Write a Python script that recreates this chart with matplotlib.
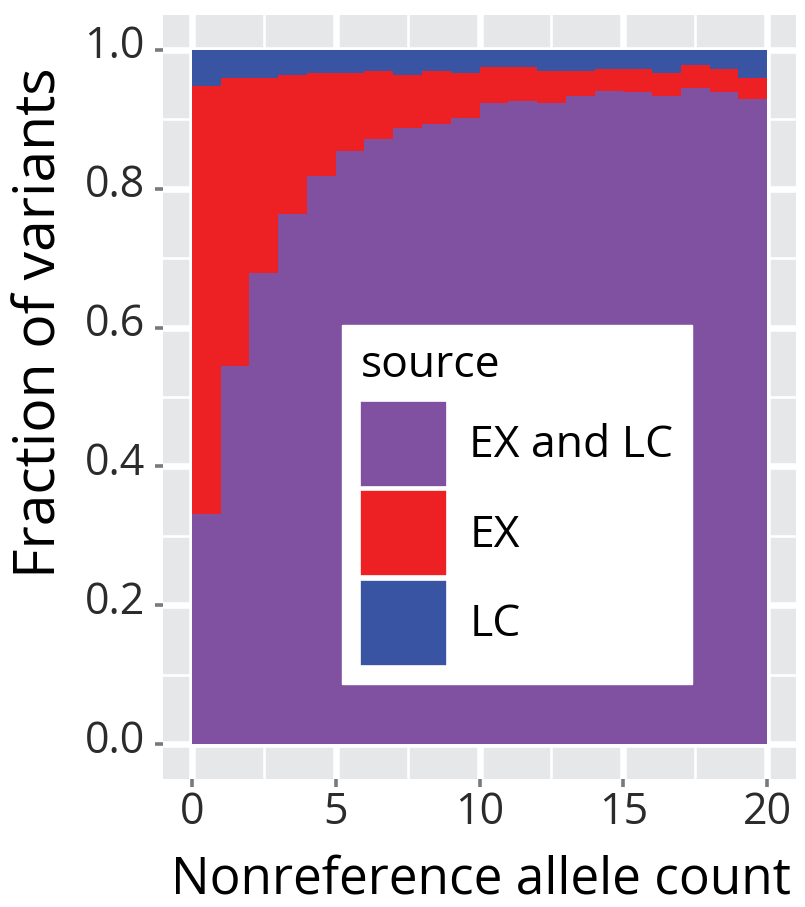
import matplotlib
matplotlib.use("Agg")
import matplotlib.pyplot as plt
import matplotlib.transforms as mtransforms
from matplotlib.patches import Patch
import numpy as np

plt.rcParams["font.family"] = ["Open Sans", "DejaVu Sans"]

# nonreference allele count bins (bar i covers [i, i+1])
allele_count = list(range(20))

# fraction of variants by source, bottom to top of each stacked bar
frac_ex_and_lc = [0.331, 0.545, 0.678, 0.763, 0.818, 0.854, 0.872, 0.887, 0.893, 0.902,
                  0.924, 0.926, 0.924, 0.933, 0.941, 0.939, 0.933, 0.945, 0.939, 0.929]
frac_ex = [0.617, 0.415, 0.282, 0.200, 0.148, 0.112, 0.097, 0.076, 0.076, 0.064,
           0.051, 0.049, 0.045, 0.036, 0.031, 0.033, 0.033, 0.033, 0.033, 0.031]
frac_lc = [0.052, 0.040, 0.040, 0.037, 0.034, 0.034, 0.031, 0.037, 0.031, 0.034,
           0.025, 0.025, 0.031, 0.031, 0.028, 0.028, 0.034, 0.022, 0.028, 0.040]

source_labels = ["EX and LC", "EX", "LC"]
source_colors = ["#8151A1", "#ED2024", "#3A54A4"]

x_ticks = [0, 5, 10, 15, 20]
y_ticks = [0.0, 0.2, 0.4, 0.6, 0.8, 1.0]

W, H = 805, 907
fig = plt.figure(figsize=(W / 100, H / 100), dpi=100)
ax = fig.add_axes([163 / W, 1 - 779 / H, 633 / W, 764 / H])
ax.set_facecolor("#E6E7E8")

bottom = np.zeros(len(allele_count))
for vals, lab, col in zip([frac_ex_and_lc, frac_ex, frac_lc], source_labels, source_colors):
    ax.bar(allele_count, vals, width=1.0, bottom=bottom, align="edge",
           color=col, linewidth=0, label=lab)
    bottom = bottom + np.asarray(vals)

ax.set_xlim(-1, 21)
ax.set_ylim(-0.05, 1.05)
ax.set_xticks(x_ticks)
ax.set_xticks([2.5, 7.5, 12.5, 17.5], minor=True)
ax.set_yticks(y_ticks)
ax.set_yticklabels([f"{v:.1f}" for v in y_ticks])
ax.set_yticks([0.1, 0.3, 0.5, 0.7, 0.9], minor=True)

ax.set_axisbelow(True)
ax.grid(which="major", color="white", linewidth=4.8)
ax.grid(which="minor", color="white", linewidth=1.9)
for s in ax.spines.values():
    s.set_visible(False)

ax.tick_params(which="minor", length=0)
ax.tick_params(which="major", length=6, width=2.6, color="#7a7a7a",
               labelsize=31, labelcolor="#2b2b2b")
ax.tick_params(axis="y", pad=7)
ax.tick_params(axis="x", pad=2)

# y tick labels sit a little above their ticks in the original
lift = mtransforms.ScaledTranslation(0, 8 / 100, fig.dpi_scale_trans)
for lab in ax.get_yticklabels():
    lab.set_transform(lab.get_transform() + lift)

ax.set_xlabel("Nonreference allele count", fontsize=37, color="black")
ax.xaxis.label.set_verticalalignment("baseline")
ax.xaxis.set_label_coords(0.503, -(894 - 779) / 764)
ax.set_ylabel("Fraction of variants", fontsize=41, color="black")
ax.yaxis.set_label_coords(-0.148, 0.597)

handles = [Patch(facecolor=c, edgecolor="white", linewidth=1.2) for c in source_colors]
leg = ax.legend(handles, source_labels, title="source", loc="upper left",
                bbox_to_anchor=((341.7 - 163) / 633, (779 - 325) / 764),
                fontsize=32, title_fontsize=32, frameon=True, fancybox=False,
                framealpha=1, edgecolor="white", facecolor="white",
                handlelength=1.95, handleheight=2.6, handletextpad=0.5,
                labelspacing=0.08, borderpad=0.42, borderaxespad=0,
                alignment="left")
leg._legend_box.sep = 9

fig.savefig("out.png", dpi=100)
